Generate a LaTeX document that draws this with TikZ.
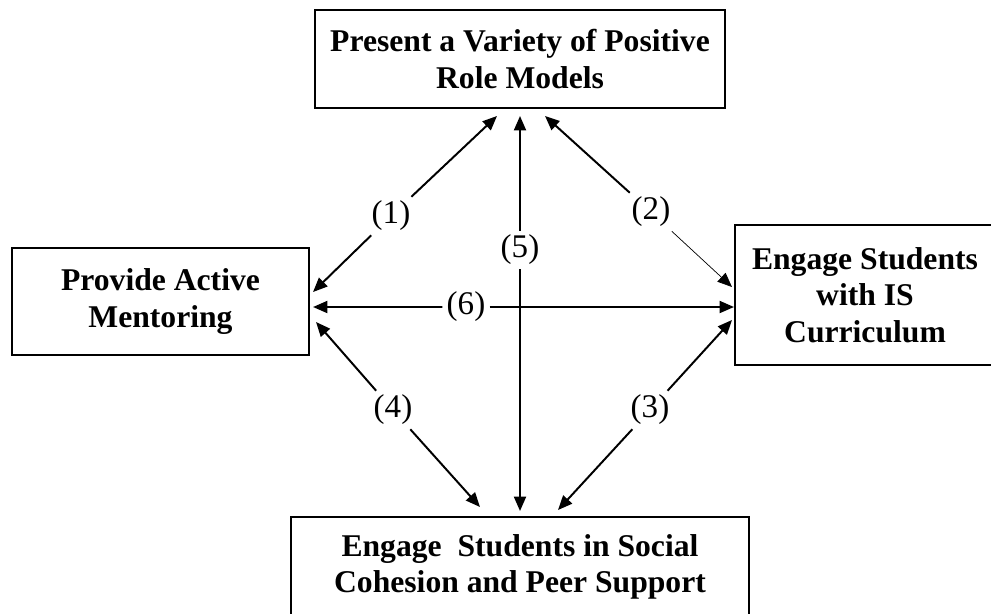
\documentclass[tikz,border=0pt]{standalone}
\usepackage{fontspec}
\setmainfont{Liberation Serif}
\usetikzlibrary{arrows.meta}
\tikzset{
	box/.style={draw, line width=1.4pt, align=center, inner sep=0pt, font=\fontsize{22.5}{26}\selectfont\bfseries},
	num/.style={inner sep=0.1cm, font=\fontsize{23.5}{27}\selectfont},
	link/.style={->, line width=1.4pt}
}

\begin{document}
\begin{tikzpicture}[x=0.025cm, y=-0.025cm, >={Triangle[length=0.36cm, width=0.3cm]}]
	\useasboundingbox (0,0) rectangle (991,613);
	% boxes
	\node[box, minimum width=10.25cm, minimum height=2.45cm] (roles) at (520,59) {Present a Variety of Positive\\Role Models};
	\node[box, minimum width=7.425cm, minimum height=2.675cm] (mentor) at (160.5,301.5) {Provide Active\\Mentoring};
	\node[box, minimum width=6.5cm, minimum height=3.5cm] (curric) at (865,295) {Engage Students\\with IS\\Curriculum};
	\node[box, minimum width=11.45cm, minimum height=2.5cm] (peers) at (520,567) {Engage~ Students in Social\\Cohesion and Peer Support};
	% numbers sitting on the links
	\node[num] (n1) at (391,216) {(1)};
	\node[num] (n2) at (651,212) {(2)};
	\node[num] (n3) at (650,410) {(3)};
	\node[num] (n4) at (393,410) {(4)};
	\node[num] (n5) at (520,250) {(5)};
	\node[num] (n6) at (466,307) {(6)};
	% links, each drawn out from its number
	\draw[link] (n1) -- ([shift={(-23,7)}]roles.south);
	\draw[link] (n1) -- ([shift={(3,-9.5)}]mentor.east);
	\draw[link] (n2) -- ([shift={(25,7)}]roles.south);
	\draw[->, line width=0.5pt] (n2) -- ([shift={(-2,-8)}]curric.west);
	\draw[link] (n3) -- ([shift={(-2,25)}]curric.west);
	\draw[link] (n3) -- ([shift={(38,-6)}]peers.north);
	\draw[link] (n4) -- ([shift={(6,20.5)}]mentor.east);
	\draw[link] (n4) -- ([shift={(-40,-9)}]peers.north);
	\draw[link] (n5) -- ([shift={(0,7)}]roles.south);
	\draw[link] (n5) -- ([shift={(0,-5)}]peers.north);
	\draw[link] (n6) -- ([shift={(3,5.5)}]mentor.east);
	\draw[link] (n6) -- ([shift={(0,12)}]curric.west);
\end{tikzpicture}
\end{document}
